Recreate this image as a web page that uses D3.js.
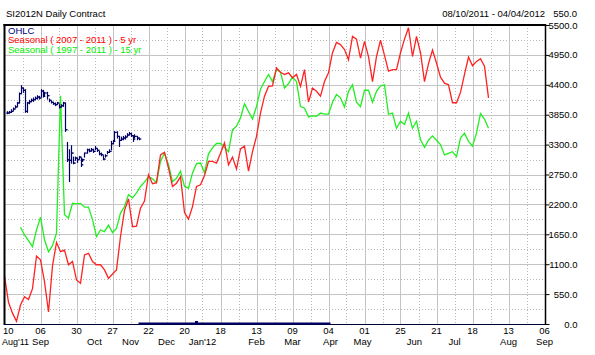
<!DOCTYPE html>
<html>
<head>
<meta charset="utf-8">
<script src="https://cdn.jsdelivr.net/npm/d3@7"></script>
<style>
body { margin: 0; background: #fff; }
svg text { font-family: "Liberation Sans", Arial, sans-serif; font-size: 9.5px; }
</style>
</head>
<body>
<div id="chart"></div>
<script>
// data (trading-day index, 18 days per axis tick)
var tickLabels = ["10","06","30","27","22","20","18","13","09","04","01","25","21","18","13","06"];
var monthNames = ["Aug'11","Sep","Oct","Nov","Dec","Jan'12","Feb","Mar","Apr","May","Jun","Jul","Aug","Sep"];
var monthDays  = [0, 18, 45, 63, 81, 99, 126, 144, 163, 179, 205, 225, 252, 270];
var yTicks = d3.range(0, 5501, 550);

// seasonal series, one value every 2 trading days
var red5yr = [880,400,200,50,350,500,450,650,1250,1180,
  780,220,1070,1500,1330,1360,1090,1150,810,750,
  1270,1300,1150,1090,1090,995,840,920,995,1610,
  2090,2300,1790,1800,2130,2260,2745,2580,2600,3110,
  3160,2870,2530,2590,2710,2050,1930,2160,2530,2560,
  2730,2990,2990,2960,3140,3330,2930,3070,2850,3220,
  3270,2810,3170,3450,3880,4190,4370,4380,4710,4630,
  4590,4620,4530,4590,4370,4680,4080,4340,4280,4190,
  4460,4620,4990,5180,5140,5050,4860,5290,5240,4890,
  5200,4920,4460,4920,5220,4940,4650,4680,4680,4990,
  5240,5450,4920,5290,4990,4460,4790,5040,4800,4540,
  4430,4400,4070,4070,4260,4590,4910,4750,4830,4880,
  4740,4160];
var greenStart = 4;
var green15yr = [1780,1640,1535,1425,1730,1965,1550,1330,1440,1670,
  4200,2010,1950,2220,2210,2220,2150,2150,1920,1610,
  1730,1700,1820,1680,1760,2040,2160,2380,2320,2410,
  2530,2610,2710,2670,2600,2990,3140,2930,2620,2680,
  2810,2530,2500,2780,2950,2960,2780,3130,3240,3320,
  3320,3250,3170,3570,3640,3790,4050,3910,3770,4000,
  4320,4460,4590,4460,4680,4630,4340,4420,4540,4460,
  4000,3970,3810,3830,3820,3880,3860,3860,4080,4220,
  4160,3990,4280,4400,4080,4000,4300,4300,4080,4280,
  4380,4400,3860,3880,3600,3730,3670,3880,3600,3730,
  3390,3250,3380,3460,3380,3300,3110,3140,3170,3080,
  3420,3510,3360,3270,3510,3870,3770,3600];

// daily bars [high, low, close], first bar on day 1
var ohlcStart = 1;
var ohlc = [[3905,3868,3880],[3911,3880,3893],[3942,3893,3911],[3973,3930,3954],[4016,3973,3991],
  [4077,4003,4065],[4249,4065,4237],[4384,4237,4341],[4341,4261,4298],[4310,3893,3911],
  [4077,3893,4065],[4114,4052,4089],[4138,4089,4114],[4157,4095,4126],[4175,4126,4151],
  [4200,4138,4175],[4187,4138,4157],[4310,4175,4286],[4298,4175,4187],[4261,4187,4249],
  [4261,4138,4200],[4138,4089,4114],[4102,4065,4077],[4077,4040,4052],[4065,4016,4034],
  [4077,4040,4065],[4034,3973,3991],[4034,3991,4016],[4077,4003,4065],[4065,3543,3573],
  [3340,2990,3021],[3205,2622,3009],[3279,2959,3144],[3070,2947,2959],[3070,3009,3052],
  [3052,2972,3021],[3082,3033,3070],[3052,2898,2929],[3033,2990,3021],[3144,3070,3144],
  [3217,3144,3205],[3217,3168,3181],[3230,3181,3205],[3217,3156,3174],[3266,3205,3230],
  [3217,3174,3193],[3174,3113,3131],[3144,3095,3113],[3095,3021,3033],[3113,3070,3095],
  [3174,3131,3156],[3205,3156,3174],[3359,3205,3316],[3377,3316,3359],[3543,3359,3524],
  [3537,3420,3451],[3451,3266,3377],[3438,3377,3402],[3451,3389,3420],[3463,3402,3438],
  [3500,3451,3475],[3524,3481,3500],[3512,3451,3463],[3463,3359,3402],[3481,3420,3451],
  [3451,3389,3420],[3420,3389,3402]];
var contractDays = [67, 163];
var markerDay = 96;

var W = 595, H = 355;
var pL = 4.5, pR = 544.5, pT = 25, pB = 324;

var x = d3.scaleLinear().domain([0, 270]).range([pL, pR]);
var y = d3.scaleLinear().domain([0, 5500]).range([pB, pT]);
var tickDays = d3.range(0, 271, 18);

var svg = d3.select("#chart").append("svg")
  .attr("width", W).attr("height", H)
  .style("display", "block");

svg.append("rect").attr("width", W).attr("height", H).attr("fill", "#fff");

// grid
var grid = svg.append("g").attr("shape-rendering", "crispEdges");
grid.selectAll(".vs").data(tickDays.slice(1, -1)).enter().append("line")
  .attr("x1", function(d) { return Math.round(x(d)) + 0.5; })
  .attr("x2", function(d) { return Math.round(x(d)) + 0.5; })
  .attr("y1", pT).attr("y2", pB)
  .attr("stroke", "#c4c4c4");
grid.selectAll(".vd").data(tickDays.slice(0, -1).map(function(d) { return d + 9; })).enter().append("line")
  .attr("x1", function(d) { return Math.round(x(d)) + 0.5; })
  .attr("x2", function(d) { return Math.round(x(d)) + 0.5; })
  .attr("y1", pT).attr("y2", pB)
  .attr("stroke", "#b8b8b8").attr("stroke-dasharray", "1,2");
grid.selectAll(".hs").data(yTicks.slice(1, -1)).enter().append("line")
  .attr("x1", pL).attr("x2", pR)
  .attr("y1", function(d) { return Math.round(y(d)) + 0.5; })
  .attr("y2", function(d) { return Math.round(y(d)) + 0.5; })
  .attr("stroke", "#c4c4c4");
grid.selectAll(".hd").data(yTicks.slice(0, -1).map(function(d) { return d + 275; })).enter().append("line")
  .attr("x1", pL).attr("x2", pR)
  .attr("y1", function(d) { return Math.round(y(d)) + 0.5; })
  .attr("y2", function(d) { return Math.round(y(d)) + 0.5; })
  .attr("stroke", "#b8b8b8").attr("stroke-dasharray", "1,2");

// seasonal lines
var line = d3.line()
  .x(function(d) { return x(d.day); })
  .y(function(d) { return y(d.v); });

var greenPts = green15yr.map(function(v, i) { return { day: (i + greenStart) * 2, v: v }; });
var redPts = red5yr.map(function(v, i) { return { day: i * 2, v: v }; });

svg.append("path").datum(greenPts).attr("d", line)
  .attr("fill", "none").attr("stroke", "#22ee22").attr("stroke-width", 1.3);
svg.append("path").datum(redPts).attr("d", line)
  .attr("fill", "none").attr("stroke", "#ff2222").attr("stroke-width", 1.3);

// OHLC bars
var bars = svg.append("g").attr("stroke", "#000066").attr("stroke-width", 1.2);
ohlc.forEach(function(b, i) {
  var day = i + ohlcStart;
  var cx = Math.round(x(day)) + 0.5;
  var open = i > 0 ? ohlc[i - 1][2] : b[2];
  bars.append("line").attr("x1", cx).attr("x2", cx).attr("y1", y(b[0]) - 0.5).attr("y2", y(b[1]) + 0.5);
  bars.append("line").attr("x1", cx - 1.2).attr("x2", cx).attr("y1", y(open)).attr("y2", y(open));
  bars.append("line").attr("x1", cx).attr("x2", cx + 1.8).attr("y1", y(b[2])).attr("y2", y(b[2]));
});

// frame
svg.append("line").attr("x1", pL).attr("x2", pL).attr("y1", pT - 1).attr("y2", pB + 1)
  .attr("stroke", "#000").attr("stroke-width", 2);
svg.append("line").attr("x1", pL - 1).attr("x2", pR + 1).attr("y1", pT).attr("y2", pT)
  .attr("stroke", "#000").attr("stroke-width", 2);
svg.append("line").attr("x1", pR + 1).attr("x2", pR + 1).attr("y1", pT - 1).attr("y2", pB + 1)
  .attr("stroke", "#000").attr("stroke-width", 1.5);
svg.append("line").attr("x1", pL).attr("x2", pR + 1).attr("y1", pB + 0.5).attr("y2", pB + 0.5)
  .attr("stroke", "#000033").attr("stroke-width", 1);
svg.append("line").attr("x1", x(contractDays[0])).attr("x2", x(contractDays[1]))
  .attr("y1", pB - 0.5).attr("y2", pB - 0.5)
  .attr("stroke", "#000066").attr("stroke-width", 2);
svg.append("rect").attr("x", x(markerDay) - 1.5).attr("y", pB - 3).attr("width", 3).attr("height", 2)
  .attr("fill", "#000066");

// right axis
var yAxis = d3.axisRight(y).tickValues(yTicks).tickSize(4)
  .tickFormat(function(d) { return d3.format(".1f")(d); });
var ya = svg.append("g").attr("transform", "translate(" + (pR + 1) + ",0)").call(yAxis);
ya.select(".domain").remove();
ya.selectAll(".tick line").attr("stroke", "#000");
ya.selectAll(".tick text").attr("x", 32).attr("text-anchor", "end")
  .attr("fill", "#000").style("font-size", "9.5px").style("font-family", "'Liberation Sans', Arial, sans-serif");

// x labels
svg.selectAll(".xl").data(tickLabels).enter().append("text")
  .attr("x", function(d, i) { return i === 0 ? 3 : x(tickDays[i]); })
  .attr("y", 334)
  .attr("text-anchor", function(d, i) { return i === 0 ? "start" : "middle"; })
  .text(function(d) { return d; });
svg.selectAll(".ml").data(monthNames).enter().append("text")
  .attr("x", function(d, i) { return i === 0 ? 2 : x(monthDays[i]); })
  .attr("y", 345)
  .attr("text-anchor", function(d, i) { return i === 0 ? "start" : "middle"; })
  .style("font-size", function(d, i) { return i === 0 ? "9px" : null; })
  .text(function(d) { return d; });

// header
svg.append("text").attr("x", 6).attr("y", 17).text("SI2012N Daily Contract");
svg.append("text").attr("x", 545).attr("y", 17).attr("text-anchor", "end").text("08/10/2011 - 04/04/2012");
svg.append("text").attr("x", 577).attr("y", 17).attr("text-anchor", "end").text("550.0");

// legend
var legend = [["OHLC", "#000080"], ["Seasonal ( 2007 - 2011 ) - 5 yr", "#ff0000"], ["Seasonal ( 1997 - 2011 ) - 15 yr", "#00ee00"]];
svg.selectAll(".lg").data(legend).enter().append("text")
  .attr("x", 8).attr("y", function(d, i) { return 33.5 + i * 9.7; })
  .attr("fill", function(d) { return d[1]; })
  .text(function(d) { return d[0]; });
</script>
</body>
</html>
